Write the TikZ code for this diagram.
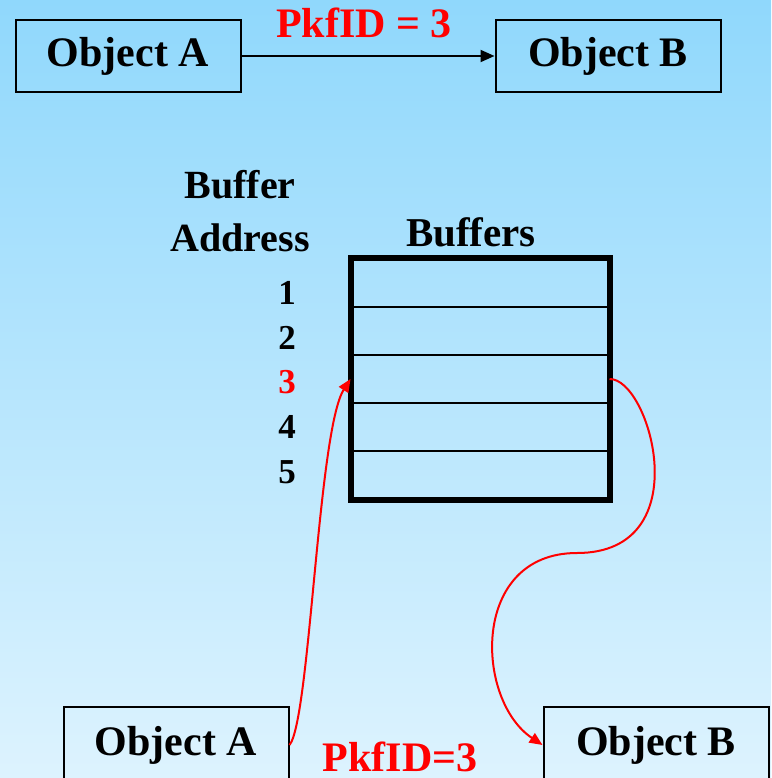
\documentclass[tikz,border=0pt]{standalone}
\usepackage{fontspec}
\setmainfont{Liberation Serif}
\usetikzlibrary{arrows.meta}

\definecolor{skytop}{RGB}{144,216,252}
\definecolor{skybot}{RGB}{221,243,254}

\tikzset{
    objbox/.style={draw, line width=2pt, minimum width=225pt, inner sep=0pt,
        font=\fontsize{42}{50}\selectfont\bfseries},
    bufcell/.style={draw, line width=2pt, minimum width=257pt, minimum height=48pt, inner sep=0pt},
    addr/.style={font=\fontsize{35}{40}\selectfont\bfseries},
    redlink/.style={red, line width=2pt, -{Triangle[length=13pt, width=11pt]}},
}

\begin{document}
\begin{tikzpicture}[x=1pt, y=-1pt]
    \def\W{771};
    \def\H{778};

    \def\bx{480};
    \def\by{259};
    \def\dh{48};

    \useasboundingbox (0, 0) rectangle (\W, \H);
    \shade[top color=skytop, bottom color=skybot] (0, 0) rectangle (\W, \H);

% top row
    \node[objbox, minimum height=72pt] (topA) at (128, 56) {Object A};
    \node[objbox, minimum height=72pt] (topB) at (608, 56) {Object B};
    \draw[line width=2pt, -{Triangle[length=14pt, width=12pt]}] (topA) -- (topB);
    \node[red, font=\fontsize{42}{50}\selectfont\bfseries] (pkfTop) at (364, 23) {PkfID = 3};

% buffers
    \node[font=\fontsize{40}{53}\selectfont\bfseries, align=center] (bufAddr) at (240, 211) {Buffer\\Address};
    \node[font=\fontsize{41}{50}\selectfont\bfseries] (bufTitle) at (471, 232) {Buffers};

    \foreach \i in {1,...,5}
        \node[bufcell] (cell\i) at (\bx, \by + \i * \dh - 0.5 * \dh) {};
    \draw[line width=6pt] (cell1.north west) rectangle (cell5.south east);

    \foreach \i in {1,2,4,5}
        \node[addr] (addr\i) at (287, 293 + 44.7 * \i - 44.7) {\i};
    \node[addr, red] (addr3) at (287, 382) {3};

% bottom row
    \node[objbox, minimum height=76pt] (botA) at (176, 745) {Object A};
    \node[objbox, minimum height=76pt] (botB) at (656, 745) {Object B};
    \node[red, font=\fontsize{42}{50}\selectfont\bfseries] (pkfBot) at (400, 757) {PkfID=3};

% links through buffer 3
    \coordinate (bend) at (577, 553);
    \draw[redlink] (botA.east) .. controls (310, 720) and (318, 430) .. (cell3.west);
    \draw[redlink] (cell3.east) .. controls (650, 378) and (700, 553) .. (bend)
        .. controls (470, 553) and (475, 700) .. (botB.west);

\end{tikzpicture}
\end{document}
